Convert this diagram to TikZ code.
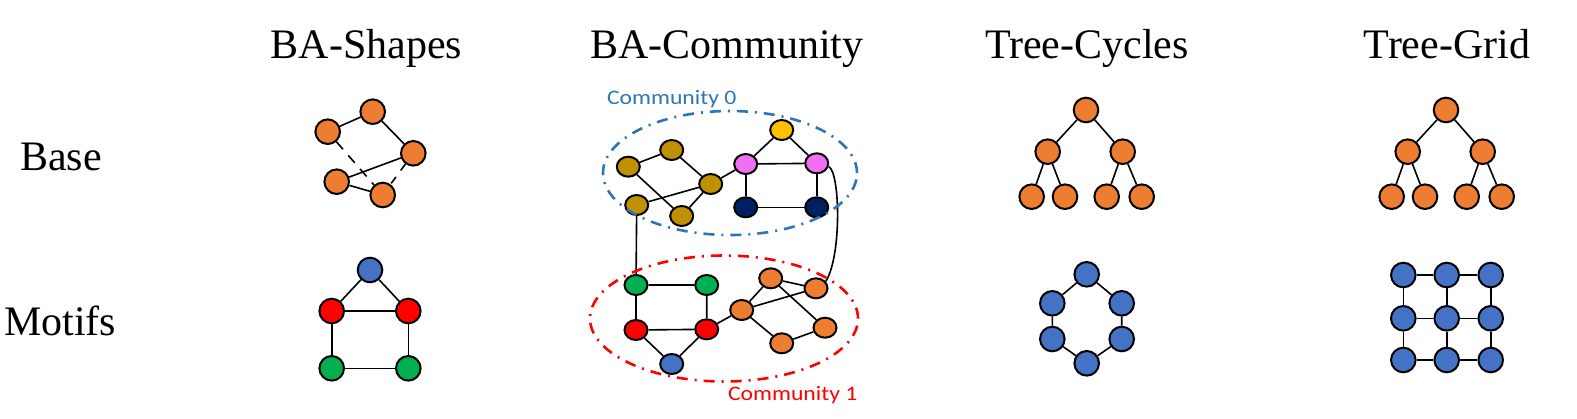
\documentclass[tikz,border=0pt]{standalone}
\usepackage{fontspec}
\setmainfont{Liberation Serif}
\newfontfamily\commfont[FakeStretch=1.15]{Carlito}
\usetikzlibrary{shapes.geometric}

\definecolor{orng}{RGB}{237,125,49}
\definecolor{blu}{RGB}{68,114,196}
\definecolor{rd}{RGB}{255,0,0}
\definecolor{grn}{RGB}{0,176,80}
\definecolor{olv}{RGB}{191,144,0}
\definecolor{ylw}{RGB}{255,192,0}
\definecolor{nvy}{RGB}{0,32,96}
\definecolor{pnk}{RGB}{242,110,242}
\definecolor{commblue}{RGB}{46,117,182}

\tikzset{
  vtx/.style={circle, draw, line width=1pt, fill=#1, minimum size=12.3pt, inner sep=0pt},
  cvtx/.style={ellipse, draw, line width=1pt, fill=#1, minimum width=11.5pt, minimum height=10pt, inner sep=0pt},
  edge/.style={line width=0.8pt},
  title/.style={font=\fontsize{21}{24}\selectfont, anchor=base},
  commlabel/.style={font=\commfont\fontsize{10.3}{12}\selectfont, anchor=base west},
  commring/.style={line width=1.3pt, dash pattern=on 5.5pt off 3.5pt on 1pt off 3.5pt}
}

\begin{document}
\begin{tikzpicture}[x=0.5pt, y=-0.5pt]
  \useasboundingbox (0,0) rectangle (1577,418);

  % headings
  \node[title] (tshapes) at (366.5,58.3) {BA-Shapes};
  \node[title] (tcomm) at (727,58.3) {BA-Community};
  \node[title] (tcycles) at (1087,58.3) {Tree-Cycles};
  \node[title] (tgrid) at (1447,58.3) {Tree-Grid};
  \node[title, anchor=base west] (rbase) at (13,170.7) {Base};
  \node[title, anchor=base west] (rmotif) at (-3,335) {Motifs};

  % BA-Shapes
  \node[vtx=orng] (s1) at (327.7,131.7) {};
  \node[vtx=orng] (s2) at (372.7,111.7) {};
  \node[vtx=orng] (s3) at (413.3,153.3) {};
  \node[vtx=orng] (s4) at (336.7,181.7) {};
  \node[vtx=orng] (s5) at (382.7,195) {};
  \draw[edge] (s1) -- (s2) -- (s3) -- (s4) -- (s5);
  \draw[edge, dash pattern=on 5pt off 4pt] (s1) -- (s5);
  \draw[edge, dash pattern=on 4pt off 4pt] (s3) -- (s5);

  \node[vtx=blu] (h1) at (370,270) {};
  \node[vtx=rd] (h2) at (331.7,311) {};
  \node[vtx=rd] (h3) at (408.3,311) {};
  \node[vtx=grn] (h4) at (331.7,368.3) {};
  \node[vtx=grn] (h5) at (408.3,368.3) {};
  \draw[edge] (h1) -- (h2) -- (h3) -- (h1);
  \draw[edge] (h2) -- (h4) -- (h5) -- (h3);

  % BA-Community, community 0
  \node[cvtx=olv] (a1) at (628.3,166.7) {};
  \node[cvtx=olv] (a2) at (671.7,150) {};
  \node[cvtx=olv] (a3) at (710.7,184) {};
  \node[cvtx=olv] (a4) at (636.7,205) {};
  \node[cvtx=olv] (a5) at (681.7,216) {};
  \node[cvtx=pnk] (a6) at (745.7,164) {};
  \node[cvtx=pnk] (a7) at (816.7,163.3) {};
  \node[cvtx=ylw] (a8) at (781.7,130) {};
  \node[cvtx=nvy] (a9) at (745.7,207.3) {};
  \node[cvtx=nvy] (a10) at (816.7,207.3) {};
  \draw[edge] (a1) -- (a2) -- (a3) -- (a5) -- (a1);
  \draw[edge] (a4) -- (a3) -- (a6);
  \draw[edge] (a6) -- (a8) -- (a7) -- (a6);
  \draw[edge] (a6) -- (a9) -- (a10) -- (a7);

  % BA-Community, community 1
  \node[cvtx=grn] (b1) at (636,285) {};
  \node[cvtx=grn] (b2) at (706.7,285) {};
  \node[cvtx=rd] (b3) at (636,330) {};
  \node[cvtx=rd] (b4) at (706.7,329.3) {};
  \node[cvtx=blu] (b5) at (671.7,364) {};
  \node[cvtx=orng] (b6) at (741.7,310) {};
  \node[cvtx=orng] (b7) at (770.7,278.3) {};
  \node[cvtx=orng] (b8) at (816,288.3) {};
  \node[cvtx=orng] (b9) at (825,327.7) {};
  \node[cvtx=orng] (b10) at (781.7,343.3) {};
  \draw[edge] (b1) -- (b2) -- (b4) -- (b3) -- (b1);
  \draw[edge] (b3) -- (b5) -- (b4) -- (b6);
  \draw[edge] (b6) -- (b7) -- (b8) -- (b6) -- (b10) -- (b9) -- (b7);

  % links between the communities
  \draw[edge] (a4) -- (b1);
  \draw[edge] (a7.-15) .. controls (840,172) and (842,255) .. (b8.35);

  \draw[commring, commblue] (730,173) ellipse [x radius=63.5pt, y radius=31pt];
  \draw[commring, rd] (724,318.5) ellipse [x radius=67pt, y radius=31.5pt];
  \node[commlabel, commblue] (lab0) at (600,104.3) {Community 0};
  \node[commlabel, rd] (lab1) at (721,400.7) {Community 1};

  % Tree-Cycles
  \node[vtx=orng] (c1) at (1086,110) {};
  \node[vtx=orng] (c2) at (1047.7,151.7) {};
  \node[vtx=orng] (c3) at (1122.7,151.7) {};
  \node[vtx=orng] (c4) at (1031.7,196.7) {};
  \node[vtx=orng] (c5) at (1065,196.7) {};
  \node[vtx=orng] (c6) at (1106.7,196.7) {};
  \node[vtx=orng] (c7) at (1141.7,196.7) {};
  \draw[edge] (c4) -- (c2) -- (c5);
  \draw[edge] (c6) -- (c3) -- (c7);
  \draw[edge] (c2) -- (c1) -- (c3);

  \node[vtx=blu] (y1) at (1086.7,274.3) {};
  \node[vtx=blu] (y2) at (1121.7,303.3) {};
  \node[vtx=blu] (y3) at (1121.7,339) {};
  \node[vtx=blu] (y4) at (1086.7,363.3) {};
  \node[vtx=blu] (y5) at (1052.3,339) {};
  \node[vtx=blu] (y6) at (1052.3,303.3) {};
  \draw[edge] (y1) -- (y2) -- (y3) -- (y4) -- (y5) -- (y6) -- (y1);

  % Tree-Grid
  \node[vtx=orng] (d1) at (1446,110) {};
  \node[vtx=orng] (d2) at (1407.7,151.7) {};
  \node[vtx=orng] (d3) at (1482.7,151.7) {};
  \node[vtx=orng] (d4) at (1391.7,196.7) {};
  \node[vtx=orng] (d5) at (1425,196.7) {};
  \node[vtx=orng] (d6) at (1466.7,196.7) {};
  \node[vtx=orng] (d7) at (1501.7,196.7) {};
  \draw[edge] (d4) -- (d2) -- (d5);
  \draw[edge] (d6) -- (d3) -- (d7);
  \draw[edge] (d2) -- (d1) -- (d3);

  \foreach \c/\x in {1/1403.3, 2/1446.7, 3/1490.7}
    \foreach \r/\y in {1/275, 2/318.3, 3/360}
      \node[vtx=blu] (g\r\c) at (\x,\y) {};
  \foreach \r in {1,2,3} {
    \draw[edge] (g\r1) -- (g\r2) -- (g\r3);
    \draw[edge] (g1\r) -- (g2\r) -- (g3\r);
  }
\end{tikzpicture}
\end{document}
